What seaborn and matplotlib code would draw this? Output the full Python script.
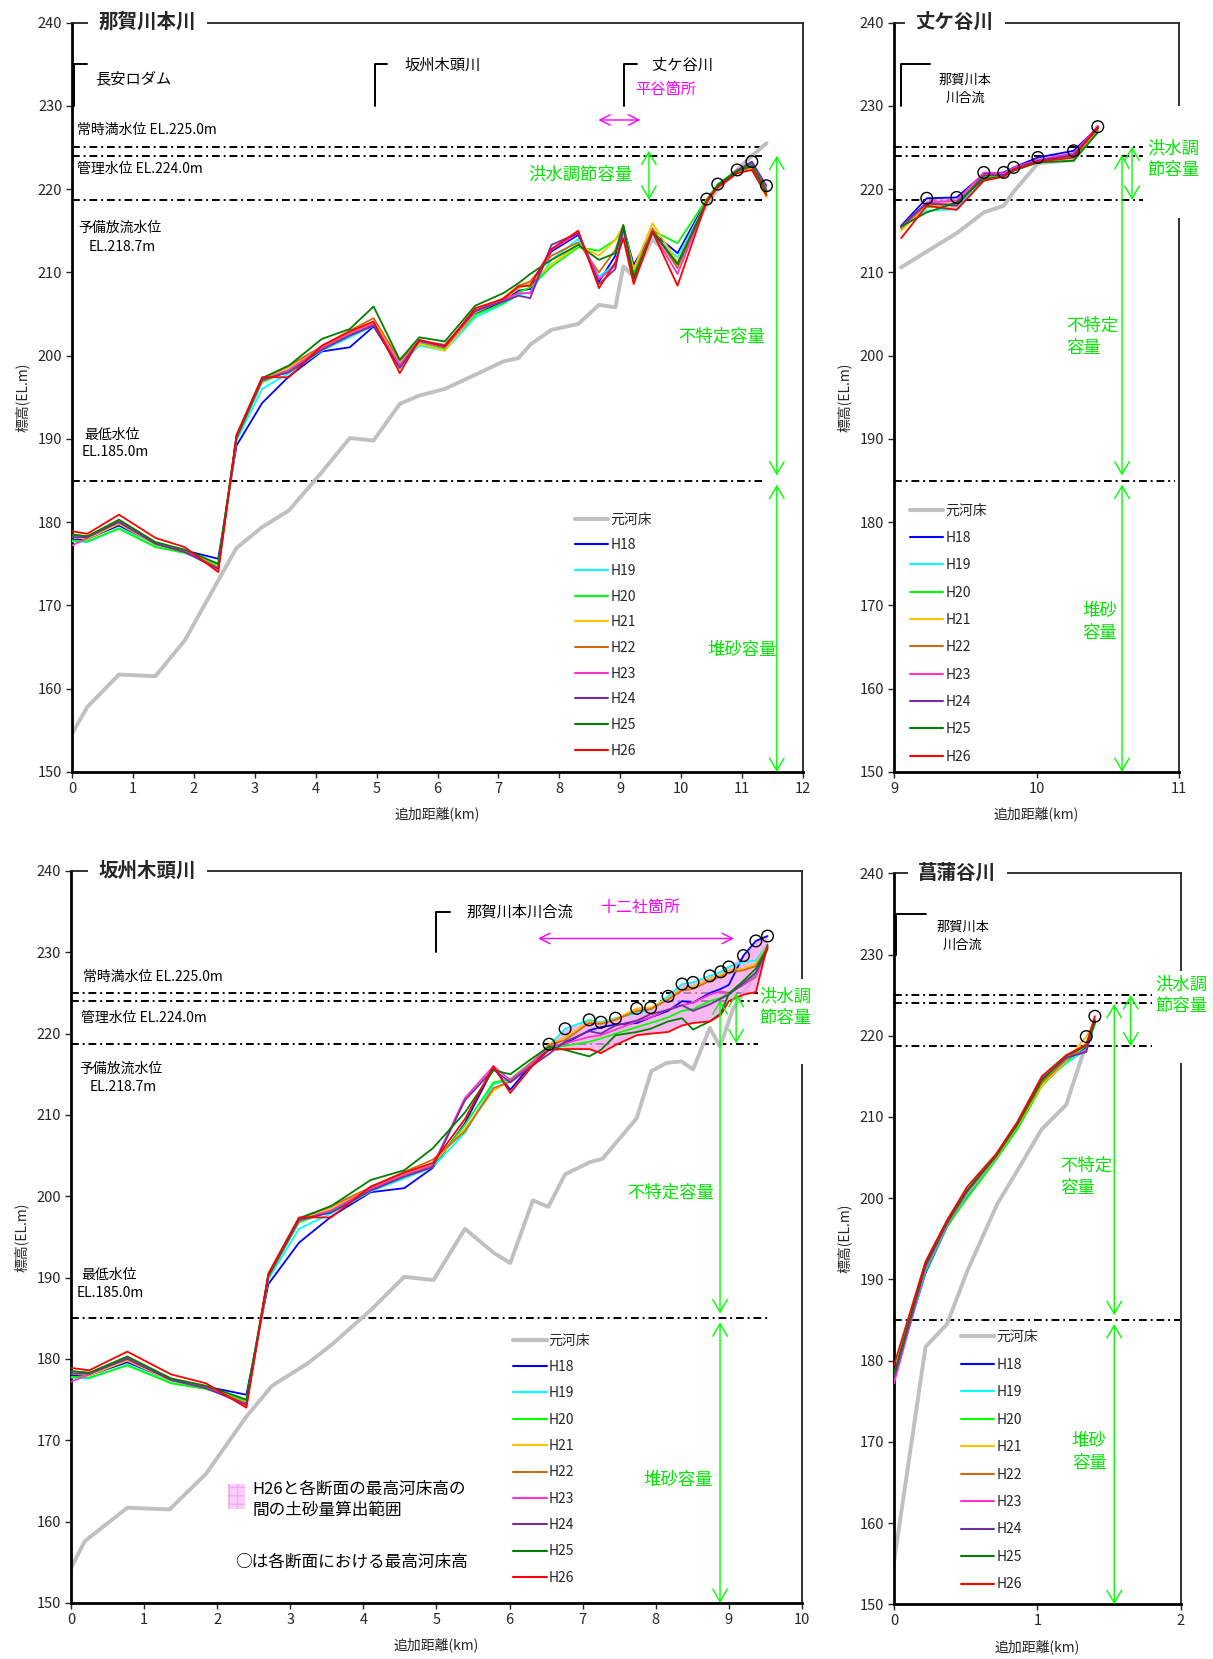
import numpy as np
import pandas as pd
import seaborn as sns
import matplotlib.pyplot as plt
from matplotlib.lines import Line2D
from matplotlib.patches import Rectangle

sns.set_style('ticks')
plt.rcParams['font.family'] = ['Noto Sans CJK JP', 'DejaVu Sans']
plt.rcParams['axes.unicode_minus'] = False

# --- 共通 ---
SURVEYS = ['H18', 'H19', 'H20', 'H21', 'H22', 'H23', 'H24', 'H25', 'H26']
SURVEY_COLORS = ['#0000ff', '#00ffff', '#00ff00', '#ffc000', '#d06a12',
                 '#ff33cc', '#7030a0', '#008000', '#ff0000']
BED_LABEL = '元河床'
BED_COLOR = '#c0c0c0'
LEVELS = [225.0, 224.0, 218.7, 185.0]
GREEN = '#00e600'
MAGENTA = '#ff00ff'

# --- 那賀川本川 ---
main_km = [0, 0.25, 0.77, 1.37, 1.85, 2.40, 2.70, 3.12, 3.56, 4.10, 4.56, 4.95,
           5.38, 5.70, 6.12, 6.62, 7.08, 7.33, 7.52, 7.87, 8.31, 8.65, 8.92, 9.05,
           9.22, 9.53, 9.94, 10.42, 10.60, 10.92, 11.16, 11.40]
main_bed = [154.6, 157.8, 161.7, 161.5, 165.8, 173.0, 176.9, 179.4, 181.4, 186.0, 190.1, 189.8,
            194.2, 195.2, 196.0, 197.7, 199.3, 199.7, 201.3, 203.1, 203.8, 206.1, 205.8, 210.7,
            209.5, 214.0, 211.0, 218.2, 220.0, 222.3, 224.0, 225.5]
main_h18 = [177.9, 178.0, 179.6, 177.4, 176.6, 175.6, 189.2, 194.3, 197.5, 200.5, 201.0, 203.5,
            198.6, 201.7, 200.9, 205.0, 206.5, 207.8, 208.0, 212.5, 214.5, 208.9, 212.0, 215.5,
            210.9, 214.8, 212.3, 218.7, 220.5, 222.2, 223.0, 219.8]
main_h19 = [177.7, 177.6, 179.3, 177.1, 176.4, 174.9, 189.8, 196.0, 197.9, 200.6, 202.2, 203.6,
            198.9, 201.2, 200.6, 204.6, 206.2, 207.3, 207.6, 211.5, 214.0, 209.5, 211.0, 215.4,
            209.8, 214.5, 211.8, 218.5, 220.4, 222.1, 222.8, 219.6]
main_h20 = [177.8, 177.7, 179.2, 177.0, 176.3, 174.8, 190.0, 196.8, 198.2, 200.8, 202.5, 203.8,
            198.8, 201.6, 200.8, 204.9, 206.3, 207.6, 208.2, 210.7, 213.0, 212.6, 213.9, 215.3,
            210.0, 215.0, 213.5, 218.8, 220.6, 222.3, 222.9, 219.5]
main_h21 = [178.2, 178.0, 179.8, 177.3, 176.5, 174.6, 190.2, 197.0, 198.6, 201.0, 202.8, 204.0,
            199.2, 201.4, 200.6, 205.2, 206.7, 208.1, 208.7, 211.0, 213.3, 212.0, 213.9, 215.6,
            210.4, 215.9, 211.2, 218.7, 220.3, 222.0, 222.6, 219.0]
main_h22 = [178.5, 178.3, 180.0, 177.5, 176.6, 174.5, 190.3, 197.2, 198.8, 201.1, 203.0, 204.5,
            199.4, 201.8, 201.3, 205.4, 206.9, 208.4, 208.9, 212.0, 213.6, 210.0, 212.7, 215.6,
            209.6, 215.3, 210.5, 218.5, 220.3, 222.0, 222.7, 219.2]
main_h23 = [177.2, 178.1, 180.2, 177.4, 176.5, 174.3, 190.1, 197.0, 198.3, 200.9, 202.6, 203.8,
            198.9, 201.7, 201.0, 205.3, 206.7, 207.5, 207.5, 212.7, 214.7, 209.2, 210.8, 215.0,
            209.0, 214.8, 209.8, 218.6, 220.4, 222.3, 223.2, 220.0]
main_h24 = [178.2, 178.2, 180.0, 177.4, 176.4, 174.4, 190.2, 197.1, 198.0, 200.7, 202.4, 203.6,
            198.5, 201.8, 201.2, 205.4, 206.5, 207.2, 206.9, 213.3, 214.7, 208.6, 210.4, 215.4,
            209.3, 214.9, 211.0, 218.6, 220.4, 222.2, 223.3, 220.4]
main_h25 = [178.5, 178.3, 180.3, 177.6, 176.7, 175.0, 190.3, 197.3, 198.8, 202.0, 203.2, 205.9,
            199.5, 202.2, 201.7, 206.0, 207.5, 208.7, 209.8, 211.5, 213.3, 211.5, 212.3, 215.7,
            209.3, 214.9, 211.0, 218.4, 220.5, 222.2, 222.8, 219.8]
main_h26 = [178.9, 178.6, 180.9, 178.1, 177.0, 174.0, 190.5, 197.4, 197.4, 201.2, 202.9, 204.1,
            197.9, 201.9, 201.1, 205.7, 206.8, 208.3, 208.4, 212.8, 215.0, 208.1, 211.2, 214.1,
            208.6, 214.9, 208.4, 218.6, 220.2, 221.9, 222.3, 219.3]
main_env_from = 27

# --- 丈ケ谷川 ---
jog_km = [9.05, 9.23, 9.44, 9.63, 9.77, 9.84, 10.01, 10.26, 10.43]
jog_bed = [210.6, 212.5, 214.7, 217.2, 218.0, 219.7, 223.1, 223.5, 227.5]
jog_h18 = [215.6, 218.9, 219.0, 221.8, 222.0, 222.6, 223.8, 224.6, 227.4]
jog_h19 = [215.4, 217.4, 217.6, 221.5, 221.7, 222.4, 223.4, 224.0, 227.2]
jog_h20 = [215.3, 217.8, 218.2, 221.4, 221.6, 222.3, 223.3, 223.8, 227.0]
jog_h21 = [215.0, 218.0, 218.0, 221.6, 221.7, 222.4, 223.4, 223.9, 227.1]
jog_h22 = [215.3, 218.2, 218.2, 221.7, 221.8, 222.4, 223.4, 224.0, 227.2]
jog_h23 = [215.4, 218.4, 218.6, 222.0, 221.9, 222.6, 223.5, 224.3, 227.5]
jog_h24 = [215.6, 218.3, 218.0, 221.6, 221.7, 222.4, 223.4, 224.1, 227.3]
jog_h25 = [215.5, 217.2, 218.4, 221.2, 221.5, 222.2, 223.2, 223.4, 226.8]
jog_h26 = [214.1, 218.0, 217.5, 221.0, 221.5, 222.3, 223.3, 223.8, 227.5]
jog_env_from = 1

# --- 坂州木頭川 (0-4.95km は那賀川本川と共通) ---
sk_km = main_km[:12] + [5.39, 5.78, 6.01, 6.30, 6.54, 6.76, 7.09, 7.25, 7.45, 7.74, 7.93,
                        8.17, 8.36, 8.51, 8.74, 8.89, 9.00, 9.20, 9.37, 9.53]
sk_bed_km = [0, 0.19, 0.77, 1.35, 1.85, 2.39, 2.75, 3.23, 3.56, 4.10, 4.56, 4.96, 5.39, 5.79,
             6.01, 6.32, 6.53, 6.76, 7.10, 7.27, 7.74, 7.94, 8.15, 8.35, 8.51, 8.74, 8.88,
             9.06, 9.40, 9.49]
sk_bed = [154.3, 157.6, 161.7, 161.5, 165.9, 172.8, 176.7, 179.4, 181.7, 186.0, 190.1, 189.7,
          196.0, 193.0, 191.8, 199.5, 198.7, 202.7, 204.2, 204.6, 209.6, 215.4, 216.4, 216.6,
          215.6, 220.7, 218.4, 223.1, 227.6, 230.3]
sk_h18 = main_h18[:12] + [209.0, 215.8, 213.1, 216.2, 218.2, 218.8, 220.4, 220.8, 221.1, 221.3,
                          222.0, 222.8, 224.0, 223.8, 225.0, 225.5, 226.0, 229.6, 231.4, 232.0]
sk_h19 = main_h19[:12] + [207.8, 213.8, 214.3, 216.3, 218.5, 220.6, 221.7, 221.4, 221.9, 222.5,
                          223.0, 224.6, 226.1, 226.3, 227.1, 227.6, 228.2, 228.8, 229.0, 231.0]
sk_h20 = main_h20[:12] + [208.8, 214.0, 214.4, 216.5, 218.3, 218.5, 219.0, 219.4, 220.0, 220.8,
                          221.3, 222.0, 222.8, 223.0, 224.0, 224.4, 225.0, 226.0, 227.2, 230.3]
sk_h21 = main_h21[:12] + [208.3, 213.0, 214.2, 216.4, 218.7, 219.5, 221.5, 221.3, 221.8, 223.1,
                          223.2, 224.3, 225.5, 225.8, 226.8, 227.2, 227.8, 228.0, 228.6, 230.8]
sk_h22 = main_h22[:12] + [208.0, 213.3, 214.1, 216.2, 218.6, 219.2, 221.3, 221.2, 221.7, 222.8,
                          223.0, 224.2, 225.3, 225.5, 226.5, 227.0, 227.5, 227.8, 228.3, 230.7]
sk_h23 = main_h23[:12] + [212.1, 216.0, 214.3, 216.4, 218.4, 218.8, 219.6, 219.8, 220.5, 221.5,
                          222.0, 223.0, 223.5, 223.8, 224.8, 225.2, 225.0, 226.0, 227.0, 230.6]
sk_h24 = main_h24[:12] + [211.8, 215.6, 214.0, 216.0, 217.5, 219.0, 220.3, 220.0, 221.0, 221.6,
                          222.4, 222.9, 223.5, 222.8, 223.6, 224.3, 224.8, 226.2, 227.5, 230.5]
sk_h25 = main_h25[:12] + [210.3, 215.5, 215.0, 216.9, 218.4, 218.0, 217.2, 218.0, 219.8, 220.2,
                          220.6, 221.5, 221.9, 220.5, 221.5, 222.5, 224.9, 226.5, 228.0, 230.5]
sk_h26 = main_h26[:12] + [209.5, 216.0, 212.7, 215.9, 218.0, 218.1, 218.1, 217.6, 218.6, 219.8,
                          220.0, 220.2, 221.0, 221.3, 221.5, 222.3, 224.0, 224.8, 225.1, 230.9]
sk_env_from = 16

# --- 菖蒲谷川 ---
sho_km = [0, 0.22, 0.37, 0.51, 0.71, 0.86, 1.03, 1.20, 1.34, 1.40]
sho_bed_km = [0, 0.22, 0.37, 0.51, 0.72, 0.86, 1.03, 1.20, 1.33]
sho_bed = [155.2, 181.7, 184.5, 191.0, 199.3, 203.4, 208.5, 211.5, 218.5]
sho_h18 = [178.0, 190.8, 196.5, 200.2, 204.8, 208.6, 214.0, 217.0, 218.6, 221.6]
sho_h19 = [177.6, 191.0, 196.6, 200.4, 204.9, 208.8, 214.1, 216.6, 218.3, 221.4]
sho_h20 = [178.2, 191.2, 196.6, 200.0, 204.7, 208.5, 213.8, 216.8, 218.8, 221.5]
sho_h21 = [177.8, 191.5, 196.9, 200.6, 205.0, 208.9, 213.9, 216.9, 219.9, 221.8]
sho_h22 = [178.0, 191.6, 197.0, 200.8, 205.1, 209.0, 214.2, 217.1, 219.0, 221.7]
sho_h23 = [177.2, 191.4, 196.8, 200.7, 205.1, 209.1, 214.6, 217.2, 218.2, 222.0]
sho_h24 = [177.9, 191.7, 197.0, 200.9, 205.2, 209.2, 214.7, 217.3, 218.0, 221.9]
sho_h25 = [178.4, 191.9, 197.1, 201.0, 205.2, 209.1, 214.5, 217.5, 218.8, 221.6]
sho_h26 = [179.4, 192.2, 197.3, 201.4, 205.4, 209.4, 215.0, 217.6, 218.9, 222.4]
sho_env_from = 8

PALETTE = dict(zip(SURVEYS, SURVEY_COLORS))


def draw_profile(ax, km, bed_km, bed, series, env_from, fill=True):
    long = pd.DataFrame({
        'km': np.tile(km, len(SURVEYS)),
        'elev': np.concatenate([series[s] for s in SURVEYS]),
        'survey': np.repeat(SURVEYS, len(km)),
    })
    sns.lineplot(x=bed_km, y=bed, color=BED_COLOR, lw=2.8, ax=ax, zorder=2)
    stack = np.vstack([series[s] for s in SURVEYS])
    env = stack.max(axis=0)
    xs = np.array(km)[env_from:]
    if fill:
        ax.fill_between(xs, np.array(series['H26'])[env_from:], env[env_from:],
                        facecolor='#f7a0ee', edgecolor='none', alpha=0.75, zorder=2.5)
    sns.lineplot(data=long, x='km', y='elev', hue='survey', hue_order=SURVEYS,
                 palette=PALETTE, estimator=None, sort=False, lw=1.3,
                 legend=False, ax=ax, zorder=3)
    ax.scatter(xs, env[env_from:], s=70, facecolors='none', edgecolors='black',
               linewidths=1.0, zorder=4)


def setup(ax, xlim, xticks, title, title_x):
    ax.set_xlim(*xlim)
    ax.set_ylim(150, 240)
    ax.set_xticks(xticks)
    ax.set_yticks(range(150, 241, 10))
    ax.tick_params(direction='out', length=4, width=1, labelsize=10.5, pad=3)
    for side in ['left', 'bottom']:
        ax.spines[side].set_linewidth(2.0)
        ax.spines[side].set_color('black')
    for side in ['top', 'right']:
        ax.spines[side].set_linewidth(1.3)
        ax.spines[side].set_color('#222222')
    ax.set_xlabel('追加距離(km)', fontsize=10, labelpad=8)
    ax.set_ylabel('標高(EL.m)', fontsize=10, labelpad=6)
    ax.text(title_x, 1.0, title, transform=ax.transAxes, fontsize=14, fontweight='bold',
            ha='left', va='center', zorder=6,
            bbox=dict(boxstyle='square,pad=0.55', fc='white', ec='none'))


def levels(ax, x0, x_upper, x_min):
    for lv in LEVELS:
        x1 = x_min if lv == LEVELS[3] else x_upper
        ax.hlines(lv, x0, x1, colors='black', lw=1.4, linestyles=(0, (4, 2, 1, 2)), zorder=1)


def varrow(ax, x, y0, y1, color='#00ff00', lw=1.0, hl=0.6, hw=0.35):
    ax.annotate('', xy=(x, y1), xytext=(x, y0),
                arrowprops=dict(arrowstyle=f'<->,head_length={hl},head_width={hw}',
                                color=color, lw=lw, shrinkA=0, shrinkB=0,
                                mutation_scale=15))


def harrow(ax, x0, x1, y):
    ax.annotate('', xy=(x1, y), xytext=(x0, y),
                arrowprops=dict(arrowstyle='<->,head_length=0.5,head_width=0.25',
                                color=MAGENTA, lw=1.0, shrinkA=0, shrinkB=0,
                                mutation_scale=15))


def bracket(ax, x0, x1):
    ax.plot([x0, x0, x1], [230, 235, 235], color='black', lw=1.4, zorder=3)


def legend(ax, x, y, spacing):
    handles = [Line2D([], [], color=BED_COLOR, lw=3.0, label=BED_LABEL)]
    handles += [Line2D([], [], color=c, lw=1.5, label=s) for s, c in zip(SURVEYS, SURVEY_COLORS)]
    ax.legend(handles=handles, loc='upper left', bbox_to_anchor=(x, y), frameon=False,
              fontsize=10, handlelength=2.4, handletextpad=0.15, labelspacing=spacing,
              borderpad=0, borderaxespad=0)


def spine_gap(ax, y0, y1):
    ax.add_patch(Rectangle((0.985, y0), 0.03, y1 - y0, transform=ax.transAxes,
                           fc='white', ec='none', zorder=5, clip_on=False))


def txt(ax, x, y, s, size=10, color='black', ha='left', **kw):
    ax.text(x, y, s, fontsize=size, color=color, ha=ha, va='center', zorder=6, **kw)


fig = plt.figure(figsize=(12.13, 16.59), dpi=100)
ax_main = fig.add_axes([0.0594, 0.5347, 0.6026, 0.4517])
ax_jog = fig.add_axes([0.7370, 0.5347, 0.2350, 0.4517])
ax_sk = fig.add_axes([0.0585, 0.0338, 0.6026, 0.4412])
ax_sho = fig.add_axes([0.7370, 0.0330, 0.2366, 0.4406])

# --- 那賀川本川 ---
ax = ax_main
series = dict(zip(SURVEYS, [main_h18, main_h19, main_h20, main_h21, main_h22,
                            main_h23, main_h24, main_h25, main_h26]))
draw_profile(ax, main_km, main_km, main_bed, series, main_env_from)
setup(ax, (0, 12), range(0, 13), '那賀川本川', 0.036)
levels(ax, 0, 11.32, 11.32)
txt(ax, 0.08, 227.1, '常時満水位 EL.225.0m')
txt(ax, 0.08, 222.4, '管理水位 EL.224.0m')
txt(ax, 0.11, 215.4, '予備放流水位')
txt(ax, 0.28, 213.1, 'EL.218.7m')
txt(ax, 0.21, 190.5, '最低水位')
txt(ax, 0.15, 188.4, 'EL.185.0m')
bracket(ax, 0.03, 0.25)
txt(ax, 0.38, 233.3, '長安ロダム', 11)
bracket(ax, 4.97, 5.17)
txt(ax, 5.45, 234.9, '坂州木頭川', 11)
bracket(ax, 9.06, 9.28)
txt(ax, 9.52, 234.9, '丈ケ谷川', 11)
txt(ax, 9.25, 232.0, '平谷箇所', 11, MAGENTA)
harrow(ax, 8.64, 9.33, 228.3)
varrow(ax, 9.47, 224.6, 218.7)
varrow(ax, 11.57, 224.0, 185.6)
varrow(ax, 11.57, 184.5, 150.0)
txt(ax, 8.34, 221.7, '洪水調節容量', 12.5, GREEN, ha='center')
txt(ax, 10.66, 202.3, '不特定容量', 12.5, GREEN, ha='center')
txt(ax, 11.0, 164.7, '堆砂容量', 12.5, GREEN, ha='center')
legend(ax, 0.688, 0.346, 0.84)

# --- 丈ケ谷川 ---
ax = ax_jog
series = dict(zip(SURVEYS, [jog_h18, jog_h19, jog_h20, jog_h21, jog_h22,
                            jog_h23, jog_h24, jog_h25, jog_h26]))
draw_profile(ax, jog_km, jog_km, jog_bed, series, jog_env_from)
setup(ax, (9, 11), [9, 10, 11], '丈ケ谷川', 0.077)
levels(ax, 9.0, 10.75, 10.97)
bracket(ax, 9.05, 9.25)
txt(ax, 9.5, 232.0, '那賀川本\n川合流', 9.5, ha='center', linespacing=1.5)
varrow(ax, 10.67, 225.1, 218.7)
varrow(ax, 10.6, 224.1, 185.6)
varrow(ax, 10.6, 184.5, 150.0)
spine_gap(ax, (216.5 - 150) / 90, (230 - 150) / 90)
txt(ax, 10.78, 223.6, '洪水調\n節容量', 12.5, GREEN, linespacing=1.3)
txt(ax, 10.21, 202.25, '不特定\n容量', 12.5, GREEN, linespacing=1.3)
txt(ax, 10.32, 168.05, '堆砂\n容量', 12.5, GREEN, linespacing=1.3)
legend(ax, 0.056, 0.358, 0.96)

# --- 坂州木頭川 ---
ax = ax_sk
series = dict(zip(SURVEYS, [sk_h18, sk_h19, sk_h20, sk_h21, sk_h22,
                            sk_h23, sk_h24, sk_h25, sk_h26]))
draw_profile(ax, sk_km, sk_bed_km, sk_bed, series, sk_env_from)
setup(ax, (0, 10), range(0, 11), '坂州木頭川', 0.038)
levels(ax, 0, 9.40, 9.55)
txt(ax, 0.16, 227.0, '常時満水位 EL.225.0m')
txt(ax, 0.14, 221.9, '管理水位 EL.224.0m')
txt(ax, 0.11, 215.7, '予備放流水位')
txt(ax, 0.25, 213.4, 'EL.218.7m')
txt(ax, 0.14, 190.3, '最低水位')
txt(ax, 0.08, 188.1, 'EL.185.0m')
bracket(ax, 4.99, 5.18)
txt(ax, 5.41, 234.9, '那賀川本川合流', 11)
txt(ax, 7.79, 235.5, '十二社箇所', 11.5, MAGENTA, ha='center')
harrow(ax, 6.39, 9.07, 231.7)
varrow(ax, 9.10, 225.0, 218.8)
varrow(ax, 8.88, 224.1, 185.6)
varrow(ax, 8.88, 184.5, 150.0)
spine_gap(ax, (216.3 - 150) / 90, (226.7 - 150) / 90)
txt(ax, 9.42, 223.25, '洪水調\n節容量', 12.5, GREEN, linespacing=1.3)
txt(ax, 8.2, 200.4, '不特定容量', 12.5, GREEN, ha='center')
txt(ax, 8.31, 165.1, '堆砂容量', 12.5, GREEN, ha='center')
ax.add_patch(Rectangle((2.15, 161.6), 0.23, 3.0, fc='#fbd0f8', ec='#f4a6ee',
                       hatch='++', lw=0, zorder=3))
txt(ax, 2.48, 162.65, 'H26と各断面の最高河床高の\n間の土砂量算出範囲', 12, linespacing=1.3)
txt(ax, 2.24, 155.0, '○は各断面における最高河床高', 12)
legend(ax, 0.605, 0.368, 0.89)

# --- 菖蒲谷川 ---
ax = ax_sho
series = dict(zip(SURVEYS, [sho_h18, sho_h19, sho_h20, sho_h21, sho_h22,
                            sho_h23, sho_h24, sho_h25, sho_h26]))
draw_profile(ax, sho_km, sho_bed_km, sho_bed, series, sho_env_from, fill=False)
setup(ax, (0, 2), [0, 1, 2], '菖蒲谷川', 0.085)
levels(ax, 0, 1.80, 1.99)
bracket(ax, 0.015, 0.22)
txt(ax, 0.48, 232.2, '那賀川本\n川合流', 9.5, ha='center', linespacing=1.5)
varrow(ax, 1.65, 225.0, 218.7)
varrow(ax, 1.535, 223.9, 185.6)
varrow(ax, 1.535, 184.5, 150.0)
spine_gap(ax, (216.6 - 150) / 90, (228.0 - 150) / 90)
txt(ax, 1.82, 225.0, '洪水調\n節容量', 12.5, GREEN, linespacing=1.3)
txt(ax, 1.16, 202.6, '不特定\n容量', 12.5, GREEN, linespacing=1.3)
txt(ax, 1.24, 168.7, '堆砂\n容量', 12.5, GREEN, linespacing=1.3)
legend(ax, 0.233, 0.375, 0.97)

fig.savefig('out.png', dpi=100)
